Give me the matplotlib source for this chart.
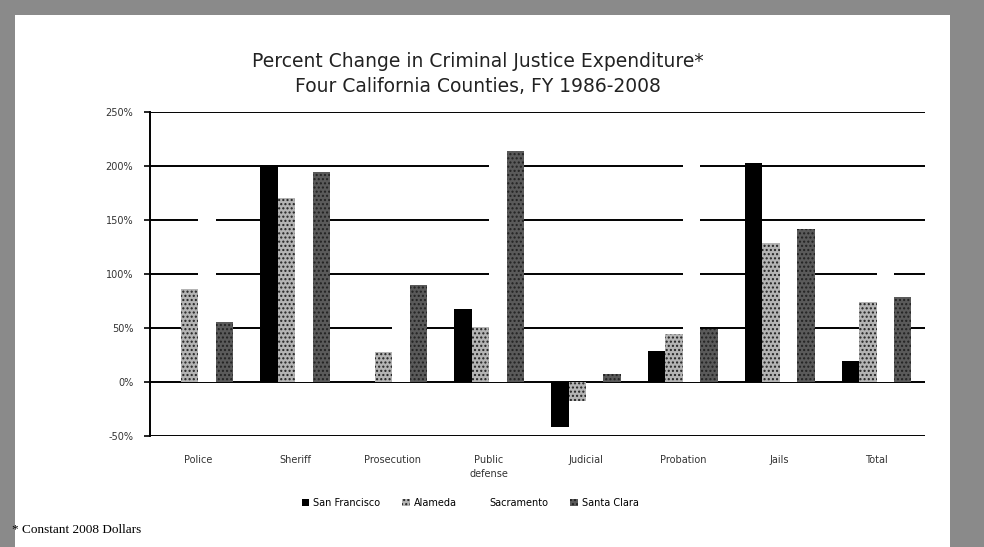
import numpy as np
import matplotlib.pyplot as plt
from matplotlib.patches import Rectangle

categories = ["Police", "Sheriff", "Prosecution", "Public\ndefense",
              "Judicial", "Probation", "Jails", "Total"]
counties = ["San Francisco", "Alameda", "Sacramento", "Santa Clara"]

# percent change, FY 1986-2008 (Sacramento bars are white)
san_francisco = [np.nan, 201, np.nan, 68, -42, 29, 203, 19]
alameda = [86, 170, 28, 51, -18, 44, 129, 74]
sacramento = [175, 175, 75, 225, 0, 220, 125, 120]
santa_clara = [56, 194, 90, 214, 7, 49, 142, 79]

yticks = [-50, 0, 50, 100, 150, 200, 250]

fig = plt.figure(figsize=(9.84, 5.47), dpi=100)
fig.patch.set_facecolor("#8a8a8a")
fig.add_artist(Rectangle((15 / 984, 0), 935 / 984, 532 / 547,
                         transform=fig.transFigure, facecolor="white",
                         edgecolor="none", zorder=0))

ax = fig.add_axes([150 / 984, 1 - 436 / 547, 775 / 984, 324 / 547])
ax.set_facecolor("white")

x = np.arange(len(categories))
w = 0.18
series = [san_francisco, alameda, sacramento, santa_clara]
faces = ["black", "#b4b4b4", "white", "#5a5a5a"]
hatches = [None, "....", None, "...."]
for i, (vals, fc, h) in enumerate(zip(series, faces, hatches)):
    ax.bar(x + (i - 1.5) * w, vals, w, color=fc, hatch=h,
           edgecolor="#222222" if h else fc, linewidth=0, zorder=3,
           label=counties[i])

for t in yticks:
    ax.axhline(t, color="black", lw=1.4, zorder=1)

ax.set_xlim(-0.5, len(categories) - 0.5)
ax.set_ylim(-50, 250)
ax.set_yticks(yticks)
ax.set_yticklabels([f"{t}%" for t in yticks], fontsize=7, color="#333333")
ax.set_xticks(x)
ax.set_xticklabels(categories, fontsize=7, color="#333333", linespacing=1.5)
ax.tick_params(axis="x", length=0, pad=14)
ax.tick_params(axis="y", length=4, width=1.2, pad=8)
for s in ["top", "right", "bottom"]:
    ax.spines[s].set_visible(False)
ax.spines["left"].set_linewidth(1.4)

fig.text(478 / 984, 1 - 62 / 547, "Percent Change in Criminal Justice Expenditure*",
         ha="center", va="center", fontsize=13.5, color="#222222")
fig.text(478 / 984, 1 - 86 / 547, "Four California Counties, FY 1986-2008",
         ha="center", va="center", fontsize=13.5, color="#222222")

handles, labels = ax.get_legend_handles_labels()
fig.legend(handles, labels, loc="center", bbox_to_anchor=(470 / 984, 1 - 503 / 547),
           ncol=4, frameon=False, fontsize=7, handlelength=0.8, handleheight=0.8,
           handletextpad=0.4, columnspacing=2.2)

fig.text(12 / 984, 1 - 530 / 547, "* Constant 2008 Dollars", ha="left", va="center",
         fontsize=9.5, family="Liberation Serif")

fig.savefig("out.png", dpi=100, facecolor=fig.get_facecolor())
